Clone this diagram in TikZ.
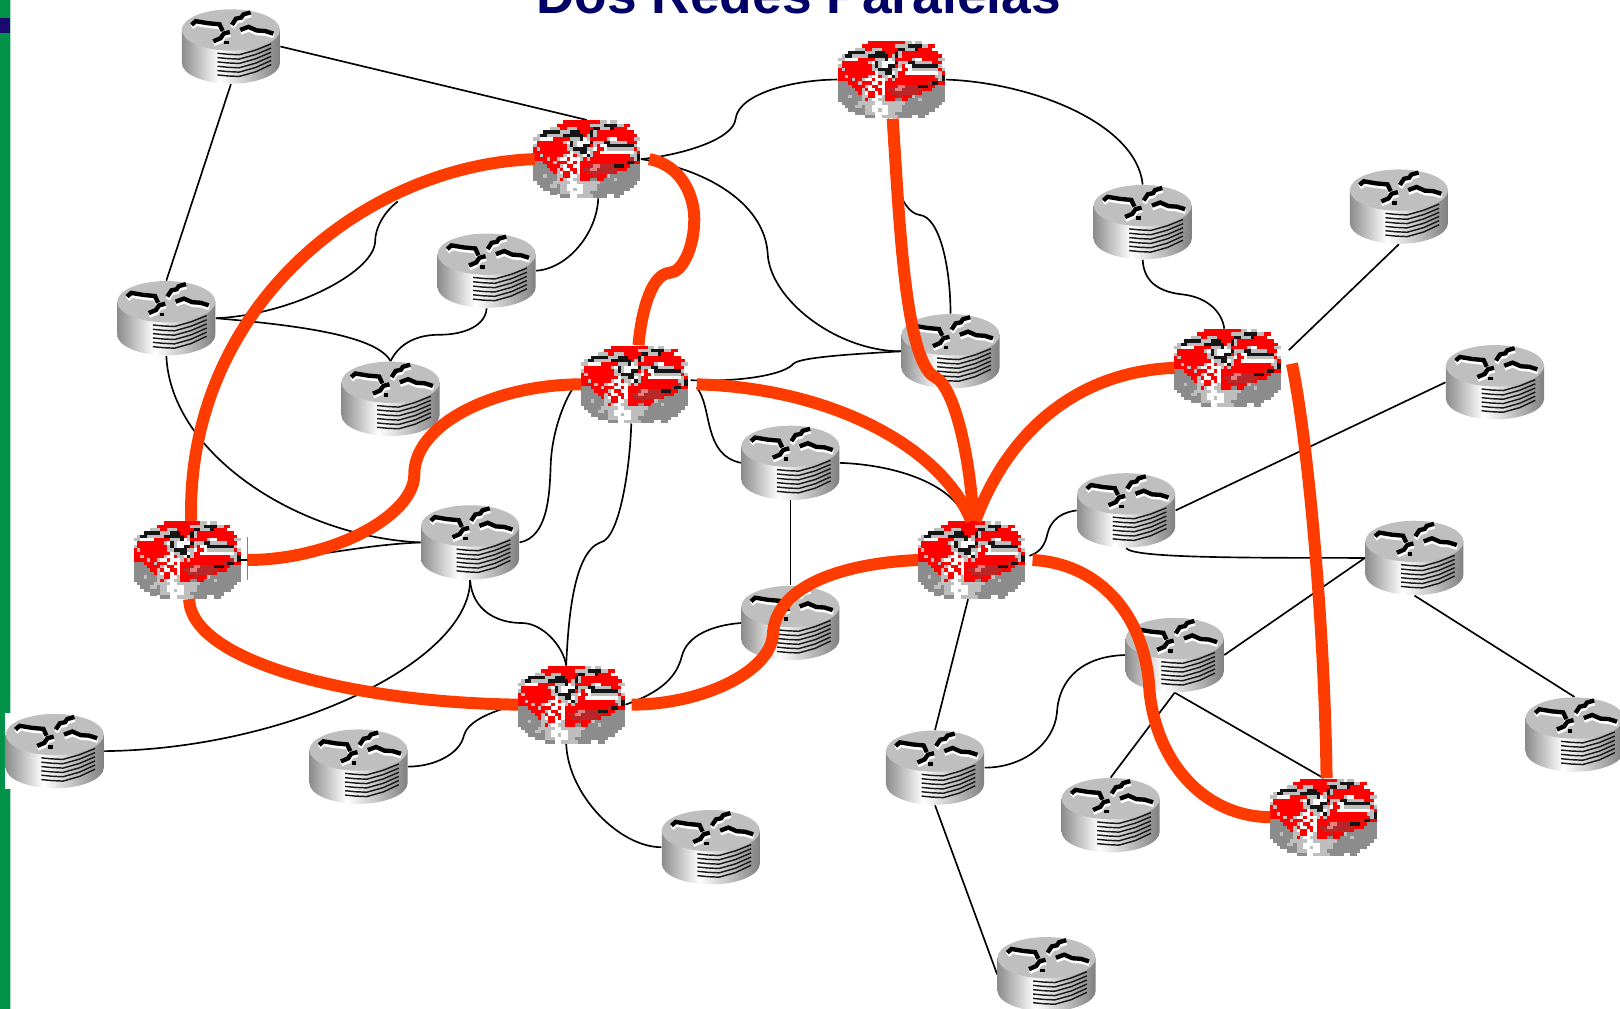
\documentclass[tikz,border=0pt]{standalone}
\usepackage{fontspec}
\setmainfont{Liberation Sans}
\usetikzlibrary{backgrounds}
\definecolor{linkred}{HTML}{FF3C00}
\definecolor{titlenavy}{HTML}{000066}
\definecolor{stripgreen}{HTML}{009248}
\definecolor{stripnavy}{HTML}{1A0A70}
\definecolor{pixR}{HTML}{FF0000}
\definecolor{pixW}{HTML}{FFFFFF}
\definecolor{pixK}{HTML}{151515}
\definecolor{pixG}{HTML}{8C8C8C}
\definecolor{pixL}{HTML}{BEBEBE}
\definecolor{pixD}{HTML}{B82828}
\definecolor{pixP}{HTML}{E48080}
\pgfdeclarehorizontalshading{cyl}{100bp}{color(0bp)=(black!45);color(25bp)=(black!45);color(44bp)=(white);color(58bp)=(black!22);color(75bp)=(black!50);color(100bp)=(black!50)}
\newcount\pixc
\newcount\pixr
\def\pixnext#1{\ifx#1\relax\let\pixgo\relax\else
  \ifx#1.\else\fill[fill=pix#1] ({-51.7+3.23*\the\pixc},{-37.5+3.26*\the\pixr}) rectangle ++(3.43,3.46);\fi
  \advance\pixc by 1 \let\pixgo\pixnext\fi\pixgo}
\def\pixrow#1{\pixc=0 \pixnext#1\relax\advance\pixr by 1 }
\newcommand\redrouter[3]{%
  \node[redbox] (#1) at (#2,#3) {};
  \begin{scope}[shift={(#2,#3)}]
  \pixr=0
  \pixrow{........WRRRRRRRRRRRLLWLLWW.....}
  \pixrow{......WRRRRRRRRRRLLLLKKKKLLRRW..}
  \pixrow{....WLLLRRLLLRRRRRKKLLLKRRRRWW..}
  \pixrow{..WKKKKKLLLKKKRRRKLRRRRRRRRRRRW.}
  \pixrow{.LKKLLLLLKKKKKKRLKLRRRRRRRRRRRR.}
  \pixrow{LLWWWWRRRRRLLLKWLRRRRRLWWRRRRRLL}
  \pixrow{WRRRRRRRRLWKLWWWWKLLLKKLLLLLRRRW}
  \pixrow{LRRRRRRRRRLKLWWKKRLRWWKKKKKKKKLW}
  \pixrow{RLRRRRRRRRLLKKKKLLWRRWLLLLLLLLRL}
  \pixrow{RRRRRRRRRRRWLLKKWLRRWWWWWWWWWWLR}
  \pixrow{RRLRRRRRRLWWRLLWKLRRRRRRRRRRRLLK}
  \pixrow{RRRRLRRLWWRWWWLRLRRRRRRRRRRRRDLK}
  \pixrow{GGGRRRLRRRWWRWRRRRRRRRRRRRRDKKRR}
  \pixrow{GGGGRRRRLWRRWWRRRDPPDDDDKKKRRGGG}
  \pixrow{GGGGGRRLRWWRRWRDDPPDDDDDDRRRGGGG}
  \pixrow{GGGGGGRLWRRWRWRRDDDDDDDDRGGGGGGG}
  \pixrow{GGGLGGGLLRRWWLRRRRDRRRLGGGGGGGGG}
  \pixrow{GGGGGGGLRLWWLLRRRGGRRGGGLGGGGGGG}
  \pixrow{.GGGGGLLLLLWWLLLLLLLGGGGGGGGGGG.}
  \pixrow{..GGGLLGLLWWWWWLLLLGGGGGGGGGGG..}
  \pixrow{...GGGGGLLWWLWWLLLLGGGGGGGGGG...}
  \pixrow{.....GGGLLLWWWWLLGGGGGGGGGG.....}
  \pixrow{.......WGGGWWLLLLLGGGGWWGG......}
  \end{scope}}
\def\markpaths{%
  (-38,-21) -- (-34,-24.5) -- (-22,-22.5) -- (-11,-21.5) -- (-8,-15)
  (1,-21) -- (5,-27) -- (10,-28) -- (12,-31) -- (19,-33)
  (9,-16) -- (17,-19) -- (25,-15.5) -- (33,-15) -- (41,-12.5)
  (-1,-14) -- (-7,-12.5) -- (-10,-8) -- (-17,-5)}
\newcommand\grayrouter[3]{%
  \node[routerbox] (#1) at (#2,#3) {};
  \begin{scope}[shift={(#2,#3)}]
  \shade[shading=cyl] (-47.5,-16) -- (-47.5,16) .. controls (-47.5,27) and (-26,36) .. (0,36) .. controls (26,36) and (47.5,27) .. (47.5,16) -- (47.5,-16) -- cycle;
  \fill[black!25] (0,-16) circle [x radius=47.5, y radius=20];
  \draw[routermark,white,yshift=-1.3pt,xshift=.2pt] \markpaths;
  \draw[routermark] \markpaths;
  \fill[black] (-6.5,-5.5) rectangle (-2,-2);
  \foreach \s in {0,4.2,8.4,12.6,16.8,21}
    \draw[stackline] (-13,{6.5+\s}) -- (-3,{7.5+\s}) -- (8,{8+\s}) -- (24,{3.5+\s}) -- (39,{-2.5+\s*.95});
  \end{scope}}
\tikzset{
  routerbox/.style={minimum width=47.5pt,minimum height=36pt,inner sep=0pt},
  redbox/.style={minimum width=52pt,minimum height=37.5pt,inner sep=0pt},
  routermark/.style={line width=2.1pt,black,line join=miter},
  stackline/.style={line width=.7pt,black!90},
  thinlink/.style={line width=.8pt,black},
  redlink/.style={line width=5.8pt,linkred},
  titletext/.style={font=\fontsize{25.8pt}{28pt}\selectfont\bfseries,text=titlenavy,anchor=base,inner sep=0pt}
}
\begin{document}
\begin{tikzpicture}[x=.5pt,y=-.5pt]
\useasboundingbox (0,0) rectangle (1568,976.6);
\node[titletext] (title) at (773,13) {Dos Redes Paralelas};
\grayrouter{ga}{223.5}{45}
\grayrouter{gb}{471}{262}
\grayrouter{gc}{161}{308}
\grayrouter{gd}{378}{386}
\grayrouter{ge}{455}{525}
\grayrouter{gf}{765}{448}
\grayrouter{gg}{765}{603}
\grayrouter{gh}{53}{727}
\grayrouter{gi}{347}{742}
\grayrouter{gj}{688}{820}
\grayrouter{gk}{905}{743}
\grayrouter{gl}{920}{340}
\grayrouter{gm}{1106}{215}
\grayrouter{gn}{1354}{200}
\grayrouter{go}{1447}{370}
\grayrouter{gp}{1090}{494}
\grayrouter{gq}{1369}{540}
\grayrouter{gr}{1137}{634}
\grayrouter{gs}{1524}{711}
\grayrouter{gt}{1075}{789}
\grayrouter{gu}{1013}{943}
\redrouter{ra}{568}{154}
\redrouter{rb}{863}{77}
\redrouter{rc}{614}{372}
\redrouter{rd}{181}{542}
\redrouter{re}{940}{542}
\redrouter{rf}{1188}{356}
\redrouter{rg}{553}{682}
\redrouter{rh}{1281}{791}
\coordinate (jn) at (385,195);
\begin{pgfonlayer}{background}
  \fill[stripgreen!35] (0,0) rectangle (11,976.6);
  \fill[stripgreen] (0,0) rectangle (9.7,976.6);
  \fill[stripnavy] (0,17.5) rectangle (9.7,32);
  \fill[white] (5,690) rectangle (20,764);
  \draw[black!50,line width=.5pt] (239.5,520) -- (239.5,561);
  \begin{scope}[thinlink]
  \draw (ga.east) -- (ra.north);
  \draw (ga.south) -- (gc.north);
  \draw (gc.east) .. controls (280,305) and (360,265) .. (363,235) .. controls (363,220) and (372,205) .. (jn);
  \draw (gc.east) .. controls (290,315) and (365,325) .. (gd.north);
  \draw (gb.south) .. controls (470,315) and (450,324) .. (425,324) .. controls (400,324) and (385,335) .. (gd.north);
  \draw (gb.east) .. controls (550,260) and (578,225) .. (ra.south -| 579,0);
  \draw (gc.south) .. controls (165,440) and (290,520) .. (ge.west);
  \draw (rd.east) .. controls (300,542) and (340,528) .. (ge.west);
  \draw (ge.east) .. controls (530,520) and (532,480) .. (533,450) .. controls (534,420) and (545,390) .. (555,375);
  \draw (rc.south -| 611,0) .. controls (610,450) and (600,522) .. (581,525) .. controls (555,535) and (550,600) .. (rg.north -| 548,0);
  \draw ([xshift=4pt,yshift=-1.5pt]rc.east) .. controls (690,395) and (680,440) .. (gf.west);
  \draw ([xshift=1pt,yshift=2pt]rc.east) .. controls (720,370) and (760,362) .. (768,352) .. controls (775,345) and (840,342) .. (gl.west);
  \draw (gf.east) .. controls (870,450) and (925,470) .. (re.north -| 935,0);
  \draw (gf.south) -- (gg.north);
  \draw (gg.west) .. controls (690,605) and (665,615) .. (660,635) .. controls (655,655) and (640,670) .. (rg.east);
  \draw (ge.south) .. controls (457,590) and (480,603) .. (505,603) .. controls (525,603) and (545,625) .. (rg.north -| 548,0);
  \draw (ge.south) .. controls (455,640) and (280,725) .. (gh.east);
  \draw (gi.east) .. controls (420,742) and (445,730) .. (449,712) .. controls (452,700) and (470,690) .. (rg.west);
  \draw (rg.south -| 548,0) .. controls (550,770) and (600,820) .. (gj.west);
  \draw (ra.east) .. controls (660,150) and (710,135) .. (712,115) .. controls (715,90) and (770,77) .. (rb.west);
  \draw (ra.east) .. controls (690,165) and (740,200) .. (743,245) .. controls (745,290) and (810,340) .. (gl.west);
  \draw (rb.east) .. controls (1000,80) and (1100,120) .. (gm.north);
  \draw (rb.south -| 860,0) .. controls (860,160) and (870,205) .. (890,208) .. controls (910,210) and (920,260) .. (gl.north);
  \draw (gm.south) .. controls (1107,275) and (1125,283) .. (1145,285) .. controls (1170,288) and (1183,303) .. (rf.north -| 1185,0);
  \draw ([xshift=3.5pt]rf.18) -- (gn.south);
  \draw (go.west) -- (gp.east);
  \draw (gp.south) .. controls (1095,540) and (1200,540) .. (gq.west);
  \draw (gp.west) .. controls (1020,497) and (1015,510) .. (1013,520) .. controls (1010,530) and (1005,535) .. ([xshift=2pt,yshift=2pt]re.east);
  \draw (gq.west) -- (gr.east);
  \draw (gq.south) -- (gs.north);
  \draw (gr.south) -- (rh.north);
  \draw (gr.south) -- (gt.north);
  \draw (gr.west) .. controls (1050,635) and (1025,655) .. (1023,690) .. controls (1020,720) and (990,743) .. (gk.east);
  \draw (re.south -| 937,0) -- (gk.north);
  \draw (gk.south) -- (gu.west);
  \end{scope}
\end{pgfonlayer}
\begin{scope}[redlink]
  \draw ([xshift=1pt]ra.west) .. controls (350,160) and (180,300) .. ([xshift=2pt]rd.north);
  \draw ([xshift=4pt]ra.east) .. controls (660,160) and (672,190) .. (672,212) .. controls (672,240) and (660,264) .. (648,264) .. controls (628,266) and (620,310) .. ([xshift=2pt]rc.north);
  \draw ([xshift=.5pt]rc.west) .. controls (480,372) and (400,410) .. (401,460) .. controls (400,500) and (320,542) .. ([xshift=3pt]rd.east);
  \draw ([xshift=4pt]rc.east) .. controls (800,375) and (910,430) .. (re.north);
  \draw ([xshift=.5pt]rb.south) .. controls (870,200) and (875,350) .. (905,365) .. controls (925,375) and (940,450) .. ([xshift=1pt]re.north);
  \draw ([xshift=.5pt]rf.west) .. controls (1040,360) and (975,420) .. ([xshift=2pt]re.north);
  \draw ([xshift=.5pt]re.west) .. controls (820,545) and (750,565) .. (748,615) .. controls (745,650) and (680,682) .. ([xshift=3pt]rg.east);
  \draw ([xshift=3.5pt]re.east) .. controls (1060,545) and (1105,590) .. (1112,660) .. controls (1115,730) and (1160,790) .. ([xshift=.5pt]rh.west);
  \draw ([xshift=1pt]rd.south) .. controls (185,640) and (340,680) .. ([xshift=.5pt]rg.west);
  \draw ([xshift=5pt,yshift=2pt]rf.east) .. controls (1265,420) and (1282,600) .. ([xshift=1.5pt]rh.north);
\end{scope}
\end{tikzpicture}
\end{document}
